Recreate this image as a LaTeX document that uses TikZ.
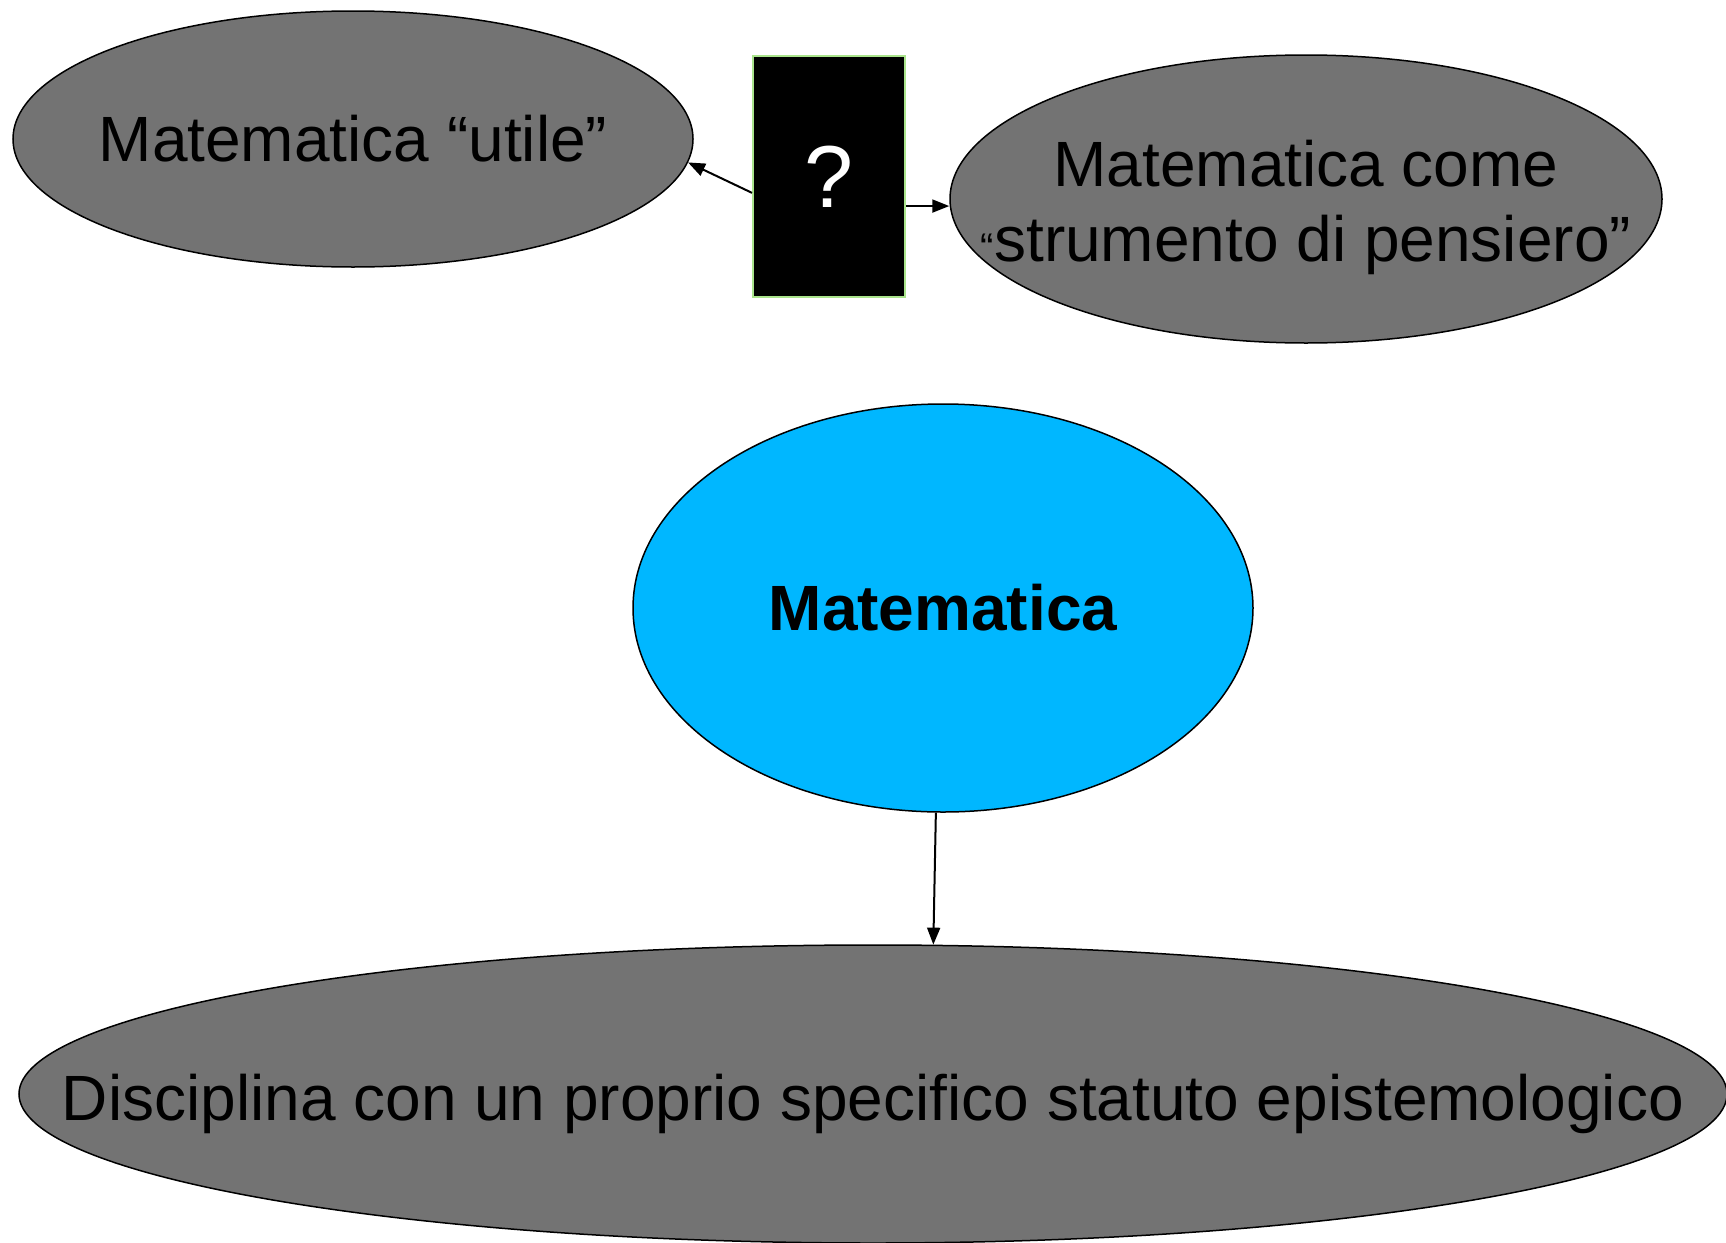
\documentclass[tikz,border=0pt]{standalone}
\usepackage{fontspec}
\setmainfont{Liberation Sans}
\usetikzlibrary{shapes.geometric, arrows.meta}
\definecolor{ovalgray}{RGB}{115,115,115}
\definecolor{skyblue}{RGB}{0,183,255}
\definecolor{boxgreen}{RGB}{170,228,140}

\begin{document}
\begin{tikzpicture}[x=1pt, y=-1pt,
    oval/.style={ellipse, draw, line width=1.5pt, fill=ovalgray, inner sep=0pt},
    words/.style={font=\fontsize{64}{75}\selectfont, align=center, inner sep=0pt},
    link/.style={-{Triangle[length=17pt,width=13pt]}, line width=2pt}]

    \useasboundingbox (0,0) rectangle (1726,1242);

    % top row
    \node[oval, minimum width=680pt, minimum height=256pt] (utile) at (353,139) {};
    \node[words] (utile text) at (utile) {Matematica “utile”};
    \node[draw=boxgreen, fill=black, line width=2pt, minimum width=152pt, minimum height=241pt] (ask) at (829,176.5) {};
    \node[text=white, font=\fontsize{88}{88}\selectfont, inner sep=0pt] (ask text) at (ask) {?};
    \node[oval, minimum width=712pt, minimum height=288pt] (tool) at (1306,199) {};
    \node[words, yshift=-8pt] (tool text) at (tool) {Matematica come\\{\fontsize{40}{40}\selectfont “}strumento di pensiero”};

    % middle and bottom
    \node[oval, fill=skyblue, minimum width=620pt, minimum height=408pt] (mate) at (943,608) {};
    \node[words, font=\fontsize{64}{75}\selectfont\bfseries] (mate text) at (mate) {Matematica};
    \node[oval, minimum width=1708pt, minimum height=298pt] (disc) at (873,1094) {};
    \node[words, yshift=-10pt] (disc text) at (disc) {Disciplina con un proprio specifico statuto epistemologico};

    \draw[link] (ask.192) -- (utile.-4);
    \draw[link] (ask.-21) -- (ask.-21 -| tool.west);
    \draw[link] (mate.-92) -- (disc.68.5);
\end{tikzpicture}
\end{document}
